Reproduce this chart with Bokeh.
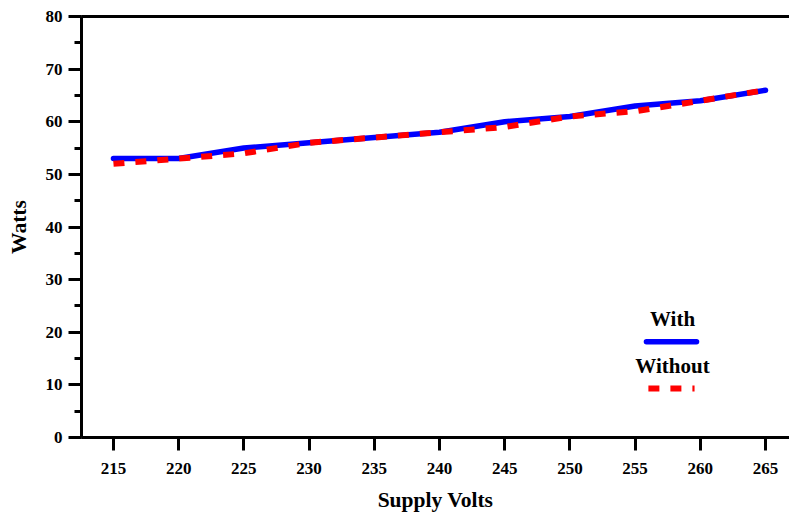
from bokeh.plotting import figure
from bokeh.models import SingleIntervalTicker, FixedTicker, LinearAxis, ColumnDataSource
from bokeh.core.properties import value
from bokeh.embed import file_html
from bokeh.resources import INLINE

volts = [215, 220, 225, 230, 235, 240, 245, 250, 255, 260, 265]
with_w = [53, 53, 55, 56, 57, 58, 60, 61, 63, 64, 66]
without_w = [52, 53, 54, 56, 57, 58, 59, 61, 62, 64, 66]
series_names = ["With", "Without"]
x_title = "Supply Volts"
y_title = "Watts"

FONT = "Liberation Serif"

p = figure(width=789, height=514, output_backend="svg", toolbar_location=None,
           x_range=(212.55, 266.84), y_range=(0, 80),
           min_border_left=81, min_border_right=0, min_border_top=16, min_border_bottom=75)
p.outline_line_color = None
p.xgrid.visible = False
p.ygrid.visible = False
p.background_fill_color = "white"

xa = p.below[0]
ya = p.left[0]

p.line(volts, with_w, line_color="blue", line_width=5.5, line_cap="round")
p.line(volts, without_w, line_color="red", line_width=6, line_dash="11 11")

# legend (label above sample line)
lx0, lx1, lxc = 255.87, 259.71, 257.87
p.line([lx0, lx1], [18.2, 18.2], line_color="blue", line_width=5.5, line_cap="round")
p.line([lx0 + 0.15, lx1 - 0.15], [9.3, 9.3], line_color="red", line_width=6, line_dash="11 11")
src = ColumnDataSource(dict(x=[lxc, lxc], y=[22.6, 13.5], t=series_names))
p.text(x="x", y="y", text="t", source=src, text_align="center", text_baseline="middle",
       text_font=value(FONT), text_font_style="bold", text_font_size="21px", text_color="black")

for ax in (xa, ya):
    ax.axis_line_width = 3
    ax.axis_line_color = "black"
    ax.major_tick_line_width = 3
    ax.major_tick_line_color = "black"
    ax.major_tick_out = 13
    ax.major_tick_in = 0
    ax.major_label_text_font = FONT
    ax.major_label_text_font_style = "bold"
    ax.major_label_text_font_size = "17px"
    ax.major_label_text_color = "black"
    ax.axis_label_text_font = FONT
    ax.axis_label_text_font_style = "bold"
    ax.axis_label_text_font_size = "21.5px"
    ax.axis_label_text_color = "black"

xa.ticker = SingleIntervalTicker(interval=5, num_minor_ticks=0)
xa.minor_tick_line_color = None
xa.major_label_standoff = 12
xa.axis_label = x_title
xa.axis_label_standoff = 11

ya.ticker = SingleIntervalTicker(interval=10, num_minor_ticks=2)
ya.minor_tick_line_width = 3
ya.minor_tick_line_color = "black"
ya.minor_tick_out = 7
ya.minor_tick_in = 0
ya.major_label_standoff = 6
ya.axis_label = y_title
ya.axis_label_standoff = 12

# top border as a bare axis line
top = LinearAxis(ticker=FixedTicker(ticks=[]), axis_line_width=3, axis_line_color="black",
                 major_tick_out=0, major_tick_in=0, minor_tick_out=0, minor_tick_in=0,
                 major_label_standoff=0, major_label_text_font_size="0px")
p.add_layout(top, "above")

open("out.html", "w").write(file_html(p, INLINE))
